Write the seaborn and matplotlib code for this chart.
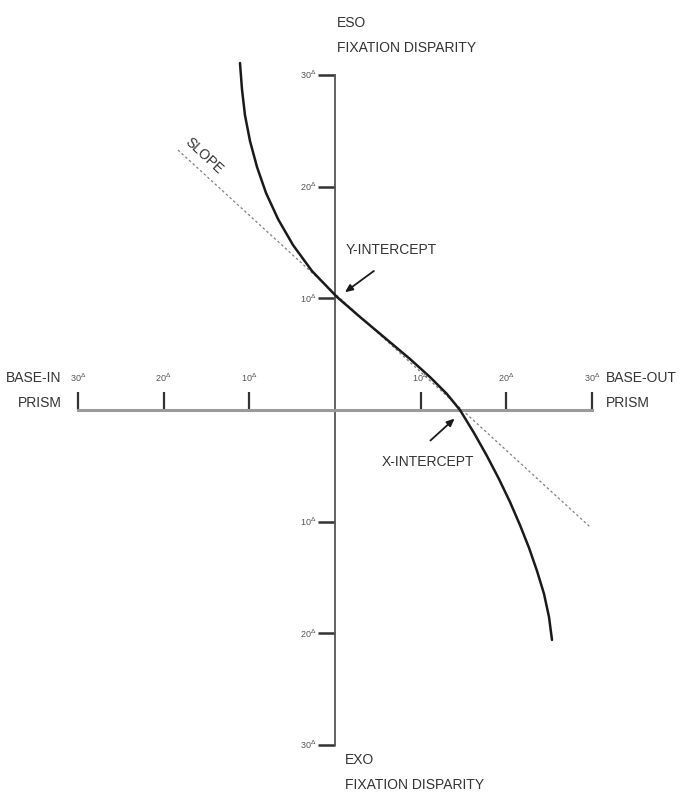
import matplotlib
matplotlib.use("Agg")
import matplotlib.pyplot as plt
import numpy as np
import pandas as pd
import seaborn as sns

# Forced-vergence fixation disparity curve (prism in prism diopters, disparity in minutes)
curve_prism = [-11.09, -10.86, -10.51, -9.92, -9.10, -8.05, -6.65, -4.90, -2.68, 0.23,
               2.92, 5.84, 8.75, 11.09, 13.07, 14.59, 16.23, 17.74, 19.14, 20.43,
               21.59, 22.65, 23.58, 24.40, 24.98, 25.33]
curve_disparity = [31.07, 28.74, 26.41, 24.08, 21.75, 19.43, 17.10, 14.77, 12.44, 10.12,
                   8.33, 6.45, 4.57, 2.95, 1.43, 0.0, -2.06, -4.12, -6.18, -8.24,
                   -10.30, -12.35, -14.41, -16.47, -18.53, -20.59]

# Tangent through the central, nearly linear section
slope_prism = [-18.33, 29.77]
slope_disparity = [23.28, -10.47]

x_ticks = [-30, -20, -10, 10, 20, 30]
y_ticks = [-30, -20, -10, 10, 20, 30]

sns.set_style("white")
plt.rcParams["font.family"] = ["Liberation Sans Narrow", "Liberation Sans", "DejaVu Sans"]

fig = plt.figure(figsize=(6.8, 7.97), dpi=100)
ax = fig.add_axes([78 / 680, 52 / 797, 514 / 680, 670 / 797])
ax.set_xlim(-30, 30)
ax.set_ylim(-30, 30)

curve = pd.DataFrame({"prism": curve_prism, "disparity": curve_disparity})
tangent = pd.DataFrame({"prism": slope_prism, "disparity": slope_disparity})

sns.lineplot(data=tangent, x="prism", y="disparity", ax=ax, color="#808080",
             linewidth=0.9, linestyle=(0, (2, 2)), sort=False, clip_on=False, zorder=2)
sns.lineplot(data=curve, x="prism", y="disparity", ax=ax, color="#1a1a1a",
             linewidth=1.8, sort=False, clip_on=False, zorder=3)

# Axes cross at the origin
for side in ("top", "right"):
    ax.spines[side].set_visible(False)
ax.spines["left"].set_position("zero")
ax.spines["bottom"].set_position("zero")
ax.spines["bottom"].set_color("#9a9a9a")
ax.spines["bottom"].set_linewidth(2.2)
ax.spines["left"].set_color("#555555")
ax.spines["left"].set_linewidth(1.3)

ax.set_xticks(x_ticks)
ax.set_yticks(y_ticks)
ax.set_xticklabels([])
ax.set_yticklabels([])
ax.tick_params(axis="x", bottom=True, direction="in", length=13, width=1.6, color="#333333")
ax.tick_params(axis="y", left=True, direction="out", length=12, width=1.8, color="#333333")
ax.set_xlabel("")
ax.set_ylabel("")

tick_kw = dict(fontsize=6.5, color="#555555")
for v in x_ticks:
    ax.text(v, 2.9, f"{abs(v)}$^\\Delta$", ha="center", va="center", **tick_kw)
for v in y_ticks:
    ax.text(-2.2, v, f"{abs(v)}$^\\Delta$", ha="right", va="center", **tick_kw)

lab_kw = dict(fontsize=10, color="#333333")
ax.text(0.2, 34.7, "ESO", ha="left", va="center", **lab_kw)
ax.text(0.2, 32.4, "FIXATION DISPARITY", ha="left", va="center", **lab_kw)
ax.text(1.2, -31.3, "EXO", ha="left", va="center", **lab_kw)
ax.text(1.2, -33.6, "FIXATION DISPARITY", ha="left", va="center", **lab_kw)
ax.text(-31.9, 2.9, "BASE-IN", ha="right", va="center", **lab_kw)
ax.text(-31.9, 0.6, "PRISM", ha="right", va="center", **lab_kw)
ax.text(31.6, 2.9, "BASE-OUT", ha="left", va="center", **lab_kw)
ax.text(31.6, 0.6, "PRISM", ha="left", va="center", **lab_kw)

ax.text(-15.35, 22.75, "SLOPE", ha="center", va="center", rotation=-43,
        rotation_mode="anchor", **lab_kw)

arrow_kw = dict(arrowstyle="-|>,head_length=0.45,head_width=0.2", color="#1a1a1a", lw=1.3)
ax.annotate("", xy=(0.9, 10.4), xytext=(4.8, 12.6), arrowprops=arrow_kw)
ax.text(1.2, 14.3, "Y-INTERCEPT", ha="left", va="center", **lab_kw)
ax.annotate("", xy=(14.2, -0.6), xytext=(10.9, -2.9), arrowprops=arrow_kw)
ax.text(10.9, -4.7, "X-INTERCEPT", ha="center", va="center", **lab_kw)

fig.savefig("out.png", dpi=100, facecolor="white")
